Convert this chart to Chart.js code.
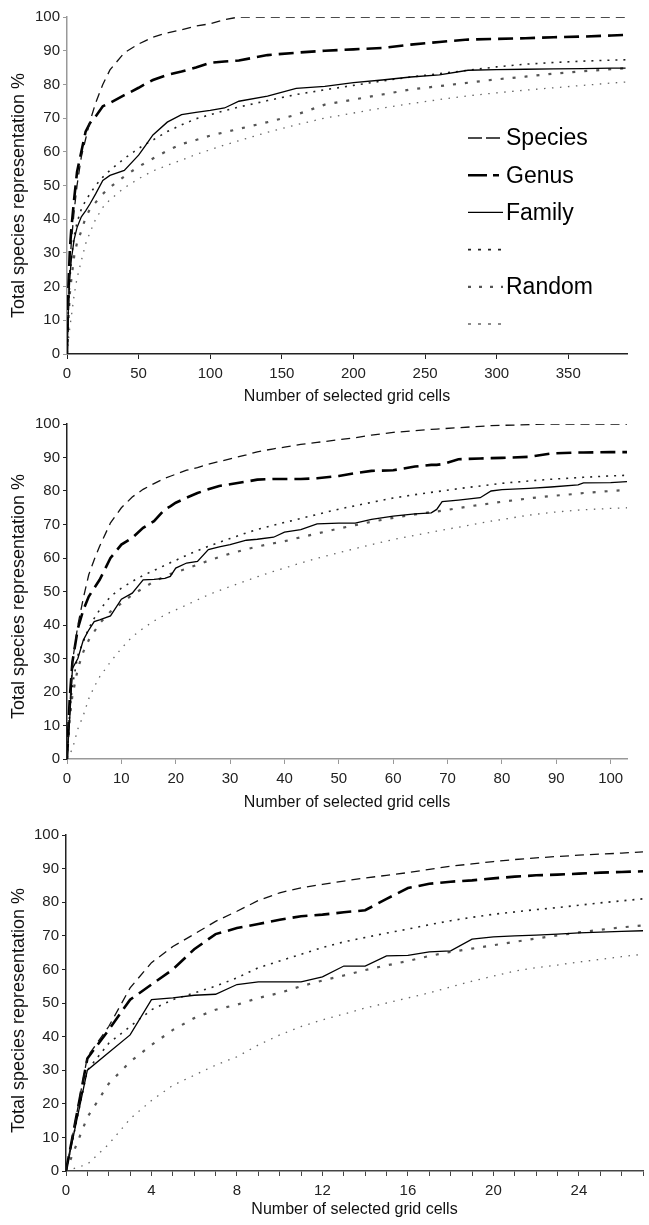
<!DOCTYPE html>
<html><head><meta charset="utf-8">
<script src="https://cdn.jsdelivr.net/npm/chart.js@4.4.0/dist/chart.umd.min.js"></script>
<style>
html,body{margin:0;padding:0;background:#fff;}
.wrap{position:relative;width:649px;}
canvas{display:block;}
</style></head><body>
<div class="wrap" style="height:410px"><canvas id="c1"></canvas></div>
<div class="wrap" style="height:405px"><canvas id="c2"></canvas></div>
<div class="wrap" style="height:410px"><canvas id="c3"></canvas></div>
<script>
// ---- labels ----
const seriesLabels = ['Species', 'Genus', 'Family', '', 'Random', ''];
const xTitle = 'Number of selected grid cells';
const yTitle = 'Total species representation %';

// ---- panel 1 ----
const p1X = [0,1,2,3,5,7,10,13,16,20,25,30,40,50,55,60,70,80,90,100,110,120,140,160,180,200,220,240,260,280,300,320,340,360,380,390];
const p1Species = [0,15,26,33,42.5,50,58.5,63.8,69,74.5,80,84.3,89.4,92,93,94,95.3,96.2,97.3,98,99.2,100,100,100,100,100,100,100,100,100,100,100,100,100,100,100];
const p1Genus = [0,20,31,37,46,54,60,66,68.5,70.5,73.5,74.5,76.8,79,80.2,81.3,82.8,83.8,85,86.4,86.8,87.1,88.7,89.4,90,90.4,90.8,91.8,92.6,93.3,93.5,93.7,94,94.2,94.5,94.7];
const p1Family = [0,14,23,28,34,37.5,40.7,42.5,44.5,47.5,51.5,53,54.5,59,62,65,68.8,71,71.7,72.3,73,75,76.5,78.8,79.4,80.5,81.3,82.2,82.8,84.2,84.4,84.5,84.6,84.7,84.8,84.8];
const p1Upper = [0,14,22,28,35,39,43,45.5,47.5,50,52.5,54.5,58,61,62.3,63.5,66,68,69.8,71,72.2,73.3,75.2,77,78.4,79.7,81,82.2,83.2,84.2,85.2,86,86.5,86.9,87.2,87.3];
const p1Random = [0,10,18,22,29,33,36.5,40.5,43,45,47.5,49.5,52.7,55.6,56.8,58,60.3,62.3,63.5,64.8,65.8,66.8,68.8,71,74,75.5,77,78.5,79.5,80.5,81.5,82.3,83.2,83.9,84.5,84.8];
const p1Lower = [0,4,8,11,17.5,22.5,27.7,32.7,36,40,43.5,45.8,49.3,52,53.2,54.3,56,57.5,59.2,60.6,62,63.3,65.8,68,70,71.5,73,74.3,75.5,76.6,77.5,78.3,79,79.7,80.4,80.7];

// ---- panel 2 ----
const p2X = [0,0.5,1,2,3,4,5,6,8,10,12,14,16,18,19,20,22,24,26,28,30,33,35,38,40,43,46,50,53,56,60,64,67,68,69,72,76,78,80,85,89,94,95,100,103];
const p2Species = [0,15,29,40,48,55,59.5,63.5,70.5,75,78.2,80.5,82.2,83.8,84.4,85,86.2,87,88,88.8,89.6,90.8,91.7,92.6,93.1,93.9,94.5,95.3,95.9,96.7,97.5,98,98.4,98.5,98.6,98.9,99.3,99.5,99.6,99.8,100,100,100,100,100];
const p2Genus = [0,18,29,39,44.5,48.5,51,53.5,60,64,66,69,71,74.5,75.4,76.5,78,79.4,80.5,81.5,82,82.8,83.4,83.6,83.6,83.6,83.8,84.5,85.3,86,86.2,87.3,87.8,87.8,88,89.5,89.7,89.8,89.9,90.2,91.2,91.5,91.5,91.6,91.6];
const p2Family = [0,12,27,30,35.5,38.5,41,41.5,42.7,47.7,49.5,53.5,53.6,53.9,54.5,57,58.5,59,62.5,63.3,64,65.3,65.6,66.2,67.7,68.5,70.2,70.4,70.4,71.5,72.5,73.2,73.5,74.5,76.8,77.3,78,80,80.4,80.8,81.2,81.8,82.4,82.5,82.8];
const p2Upper = [0,14,22,31,35,39,42,44.5,48.5,51,53,54.8,56.3,57.8,58.6,59.3,60.8,62.2,63.5,64.7,65.8,67.5,68.5,69.8,70.6,71.8,73,74.6,75.6,76.6,77.9,78.9,79.6,79.8,80,80.7,81.5,81.9,82.3,83,83.5,84,84.1,84.5,84.7];
const p2Random = [0,12,19,27,32,35.5,38,40.5,44,46.5,49,51,53,54.5,55.2,55.8,56.8,58,59.2,60.3,61.3,62.6,63.4,64.4,65,66.2,67.3,68.8,69.8,70.8,72,73,73.7,73.9,74.1,74.9,75.9,76.3,76.8,77.8,78.5,79.2,79.4,80,80.3];
const p2Lower = [0,1.5,3,9,13,18,21.5,24.5,29,33,36.5,39,41.2,43,43.8,44.5,46,47.5,49,50.3,51.5,53.2,54.4,56,57,58.5,59.9,61.6,62.8,64,65.5,66.8,67.7,68,68.3,69.2,70.4,71,71.5,72.8,73.6,74.3,74.4,74.8,75];

// ---- panel 3 ----
const p3X = [0,1,2,3,4,5,6,7,8,9,10,11,12,13,14,15,16,17,18,19,20,21,22,23,24,25,26,27];
const p3Species = [0,34,43,54.5,62,66.8,70.5,74.3,77.3,80.5,82.8,84.3,85.3,86.3,87.2,88,88.8,89.8,90.7,91.4,92.1,92.7,93.2,93.6,94,94.3,94.6,95];
const p3Genus = [0,33.5,42,51,55.5,60,66,70.5,72.3,73.5,74.8,75.8,76.3,77,77.6,81,84.2,85.5,86.1,86.5,87.1,87.6,88,88.2,88.5,88.8,89,89.2];
const p3Family = [0,30,35.3,40.5,51,51.5,52.3,52.6,55.5,56.3,56.3,56.3,57.8,61,61,64,64.2,65.2,65.5,69,69.7,70,70.2,70.5,70.9,71.1,71.3,71.5];
const p3Upper = [0,30,38,43,48,51,53,55,57.5,60.5,62.5,64.5,66.5,68.2,69.5,70.8,72,73.3,74.5,75.5,76.4,77.1,77.8,78.4,79.1,79.8,80.4,81];
const p3Random = [0,16,26,32.5,37.5,42,45.5,48,49.5,51.5,53,55,56.7,58.2,59.8,61.2,62.5,64,65.2,66.2,67.2,68.2,69.2,70.1,71,71.8,72.5,73.1];
const p3Lower = [0,2,8,15.5,21,25.5,28.5,31.5,34,37.5,40.5,43,45,46.7,48.5,50,51.5,53,54.8,56.5,58,59.5,60.5,61.3,62.2,63,63.8,64.5];

// ---- styles ----
const FONT = '"Liberation Sans", Arial, Helvetica, sans-serif';
const lineStyles = [
  {color:'#111', width:1.3, dash:[9,6], ldash:[14,4]},
  {color:'#000', width:2.6, dash:[15,7], ldash:[19,6,6,100]},
  {color:'#000', width:1.3, dash:[], ldash:[]},
  {color:'#222', width:1.6, dash:[2,6], ldash:[3,7]},
  {color:'#555', width:2.2, dash:[3,9], ldash:[3,8]},
  {color:'#666', width:1.3, dash:[1.5,6.5], ldash:[3,7]}
];

const sideLegend = {
  id: 'sideLegend',
  afterDatasetsDraw(chart, args, opts) {
    if (!opts.show) return;
    const ctx = chart.ctx;
    ctx.save();
    chart.data.datasets.forEach((ds, i) => {
      const y = opts.y0 + i * opts.dy;
      ctx.beginPath();
      ctx.setLineDash(ds.legendDash || []);
      ctx.lineWidth = ds.borderWidth;
      ctx.strokeStyle = ds.borderColor;
      ctx.moveTo(opts.x0, y);
      ctx.lineTo(opts.x0 + opts.len, y);
      ctx.stroke();
      ctx.setLineDash([]);
      if (ds.label) {
        ctx.fillStyle = '#000';
        ctx.font = opts.fontSize + 'px ' + FONT;
        ctx.textBaseline = 'middle';
        ctx.textAlign = 'left';
        ctx.fillText(ds.label, opts.x0 + opts.len + 3, y + 1);
      }
    });
    ctx.restore();
  }
};

function makeChart(id, xs, series, cfg) {
  const datasets = series.map((vals, i) => ({
    label: seriesLabels[i],
    data: xs.map((x, j) => ({x: x, y: vals[j]})),
    borderColor: lineStyles[i].color,
    borderWidth: lineStyles[i].width,
    borderDash: lineStyles[i].dash,
    legendDash: lineStyles[i].ldash,
    pointRadius: 0,
    tension: 0,
    fill: false
  }));
  return new Chart(document.getElementById(id), {
    type: 'line',
    data: { datasets },
    options: {
      responsive: true,
      maintainAspectRatio: false,
      animation: false,
      layout: { padding: { top: cfg.top, right: cfg.right, left: 0, bottom: 0 } },
      plugins: {
        legend: { display: false },
        tooltip: { enabled: false },
        sideLegend: cfg.legend || { show: false }
      },
      scales: {
        x: {
          type: 'linear', min: 0, max: cfg.xMax,
          afterFit: s => { s.height = cfg.xH; },
          ticks: {
            stepSize: cfg.xStep, includeBounds: false, autoSkip: false, maxRotation: 0,
            padding: 6, color: '#222', font: { family: FONT, size: 15 },
            callback: cfg.xCb || (v => String(v))
          },
          grid: { display: true, drawOnChartArea: false, drawTicks: true, tickLength: 5,
                  color: cfg.xColor, tickColor: cfg.xColor },
          border: { display: true, color: cfg.xColor, width: 1.5 },
          title: { display: true, text: xTitle, color: '#111',
                   font: { family: FONT, size: 16 }, padding: { top: 0, bottom: cfg.titlePad } }
        },
        y: {
          min: 0, max: 100,
          afterFit: s => { s.width = cfg.yW; },
          ticks: { stepSize: 10, padding: 3, color: '#222', font: { family: FONT, size: 15 } },
          grid: { display: true, drawOnChartArea: false, drawTicks: true, tickLength: 4,
                  color: cfg.yColor, tickColor: cfg.yColor },
          border: { display: true, color: cfg.yColor, width: 1.5 },
          title: { display: true, text: yTitle + cfg.yPadText, color: '#111',
                   font: { family: FONT, size: 18 }, padding: { top: 8, bottom: 0 } }
        }
      }
    },
    plugins: [sideLegend]
  });
}

makeChart('c1', p1X, [p1Species, p1Genus, p1Family, p1Upper, p1Random, p1Lower], {
  top: 17, right: 22, xMax: 391, xStep: 50, xH: 56, yW: 67, titlePad: 4,
  xColor: '#222', yColor: '#999', yPadText: '\u00a0\u00a0\u00a0\u00a0',
  legend: { show: true, x0: 468, len: 35, y0: 138, dy: 37.2, fontSize: 23 }
});
makeChart('c2', p2X, [p2Species, p2Genus, p2Family, p2Upper, p2Random, p2Lower], {
  top: 14, right: 22, xMax: 103, xStep: 10, xH: 56, yW: 67, titlePad: 3,
  xColor: '#999', yColor: '#222', yPadText: '\u00a0\u00a0'
});
makeChart('c3', p3X, [p3Species, p3Genus, p3Family, p3Upper, p3Random, p3Lower], {
  top: 20, right: 0, xMax: 27, xStep: 1, xH: 54, yW: 66, titlePad: 6,
  xColor: '#444', yColor: '#222', yPadText: '\u00a0\u00a0\u00a0',
  xCb: v => (v % 4 === 0 ? String(v) : '')
});
</script>
</body></html>
